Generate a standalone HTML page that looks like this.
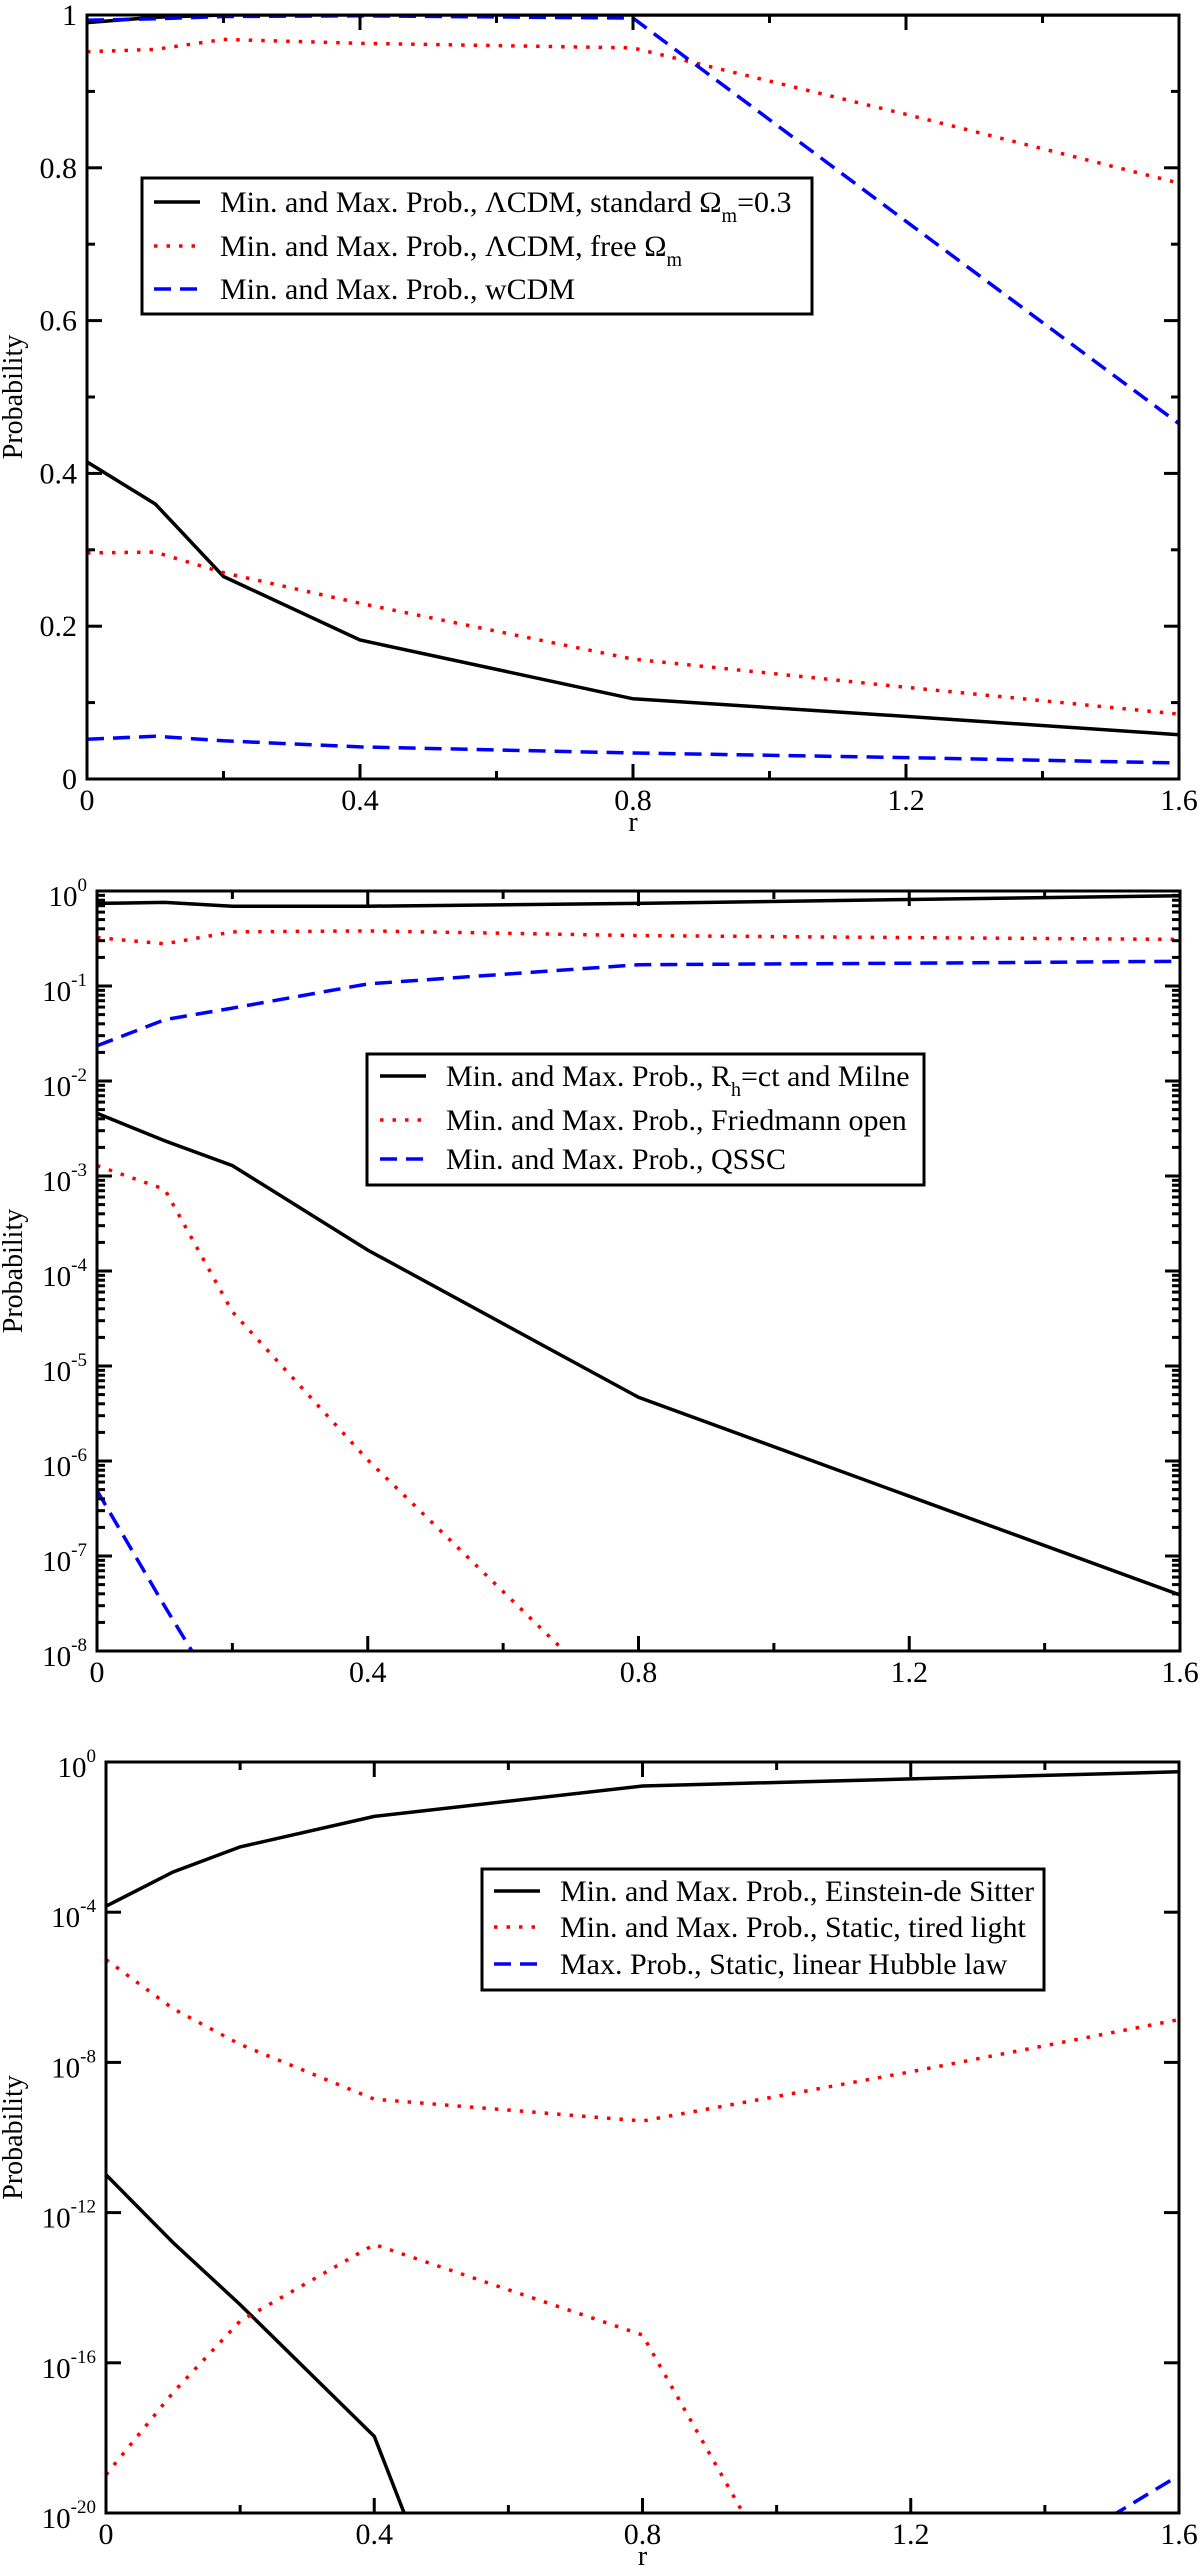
<!DOCTYPE html>
<html><head><meta charset="utf-8"><style>
html,body{margin:0;padding:0;background:#fff;width:1200px;height:2570px;overflow:hidden}
svg{display:block}
text{font-family:"Liberation Serif","Times New Roman",serif;fill:#000}
</style></head><body>
<svg id="fig" width="1200" height="2570" viewBox="0 0 1200 2570" xmlns="http://www.w3.org/2000/svg" font-family="Liberation Serif, Times New Roman, serif"></svg>
<script>
const NS="http://www.w3.org/2000/svg";
const xs=[0,0.1,0.2,0.4,0.8,1.2,1.6];
// Panel 1 (linear)
const p1BlackMax=[0.99,0.997,1,1,1,1,1];
const p1BlackMin=[0.415,0.36,0.265,0.182,0.105,0.082,0.058];
const p1RedMax=[0.952,0.955,0.968,0.963,0.957,0.87,0.78];
const p1RedMin=[0.296,0.297,0.27,0.23,0.157,0.12,0.085];
const p1BlueMax=[0.993,0.995,0.998,0.999,0.996,0.73,0.465];
const p1BlueMin=[0.052,0.056,0.05,0.042,0.034,0.028,0.021];
// Panel 2 (log10 values)
const p2BlackMax=[-0.13,-0.12,-0.16,-0.16,-0.13,-0.09,-0.05];
const p2BlackMin=[-2.34,-2.63,-2.89,-3.78,-5.33,-6.37,-7.41];
const p2RedMax=[-0.49,-0.556,-0.43,-0.42,-0.47,-0.49,-0.51];
const p2RedMin=[-2.89,-3.14,-4.43,-5.99,-8.76,-10,-11];
const p2BlueMax=[-1.63,-1.355,-1.233,-0.978,-0.776,-0.76,-0.74];
const p2BlueMin=[-6.31,-7.53,-8.7,-10,-12,-14,-16];
// Panel 3 (log10 values)
const p3BlackMax=[-3.84,-2.93,-2.26,-1.45,-0.64,-0.45,-0.26];
const p3BlackMin=[-10.99,-12.8,-14.45,-17.96,-36.3,-50,-60];
const p3RedMax=[-5.26,-6.57,-7.52,-8.98,-9.56,-8.25,-6.86];
const p3RedMin=[-18.98,-16.79,-14.89,-12.85,-15.26,-27.9,-40.5];
const p3BlueX=[1.2,1.6];
const p3BlueMax=[-23.3,-19.0];
const xTicks=[0,0.4,0.8,1.2,1.6];
const xTickLabels=["0","0.4","0.8","1.2","1.6"];
const p1YTicks=[0,0.2,0.4,0.6,0.8,1];
const p1YTickLabels=["0","0.2","0.4","0.6","0.8","1"];

const svg=document.getElementById('fig');
const FF="Liberation Serif, Times New Roman, serif";
function el(tag,attrs,parent){const e=document.createElementNS(NS,tag);for(const k in attrs)e.setAttribute(k,attrs[k]);if(tag==='text')e.setAttribute('font-family',FF);(parent||svg).appendChild(e);return e;}

const styles={
 black:{stroke:"#000","stroke-width":3.5,fill:"none"},
 red:{stroke:"#f00","stroke-width":3.5,fill:"none","stroke-dasharray":"3.5 9","stroke-linecap":"butt"},
 blue:{stroke:"#00f","stroke-width":3.5,fill:"none","stroke-dasharray":"17 9"}
};

function panel(cfg){
 const g=el('g',{});
 
 
 const X=v=>cfg.x0+(v-0)/(1.6)*(cfg.x1-cfg.x0);
 const Y=v=>cfg.yb-(v-cfg.ymin)/(cfg.ymax-cfg.ymin)*(cfg.yb-cfg.yt);
 const clipId='clip'+cfg.id;
 const defs=el('defs',{},g);
 const cp=el('clipPath',{id:clipId},defs);
 el('rect',{x:cfg.x0,y:cfg.yt,width:cfg.x1-cfg.x0,height:cfg.yb-cfg.yt},cp);
 const sg=el('g',{'clip-path':'url(#'+clipId+')'},g);
 cfg.series.forEach(s=>{
  const xv=s.x||xs;
  const d=xv.map((x,i)=>(i?'L':'M')+X(x).toFixed(1)+' '+Y(s.v[i]).toFixed(1)).join(' ');
  const p=el('path',Object.assign({d:d},styles[s.style]),sg);
  
  
 });
 const fr=el('rect',{x:cfg.x0,y:cfg.yt,width:cfg.x1-cfg.x0,height:cfg.yb-cfg.yt,fill:'none',stroke:'#000','stroke-width':3},g);
 
 
 const tk=el('g',{stroke:'#000','stroke-width':3},g);
 for(let v=0;v<=1.6001;v+=0.2){
  const major=Math.abs(v/0.4-Math.round(v/0.4))<1e-6;
  const L=major?15:8;
  el('line',{x1:X(v),x2:X(v),y1:cfg.yb,y2:cfg.yb-L},tk);
  el('line',{x1:X(v),x2:X(v),y1:cfg.yt,y2:cfg.yt+L},tk);
 }
 xTicks.forEach((v,i)=>{
  const t=el('text',{x:X(v),y:cfg.yb+31,'text-anchor':'middle','font-size':30},g);
  t.textContent=xTickLabels[i];
  
  
 });
 cfg.yticks(tk,g,X,Y);
 if(cfg.xlabel){
  const t=el('text',{x:(cfg.x0+cfg.x1)/2,y:cfg.yb+52,'text-anchor':'middle','font-size':28},g);
  t.textContent='r';
  
  
 }
 const yl=el('text',{transform:'translate(22,'+((cfg.yt+cfg.yb)/2)+') rotate(-90)','text-anchor':'middle','font-size':28},g);
 yl.textContent='Probability';
 
 
 const lg=el('g',{},g);
 
 
 const L=cfg.legend;
 el('rect',{x:L.x,y:L.y,width:L.w,height:L.h,fill:'#fff',stroke:'#000','stroke-width':3},lg);
 L.items.forEach((it,i)=>{
  const yy=L.rows[i];
  el('line',Object.assign({x1:L.sx,x2:L.sx+46,y1:yy,y2:yy},styles[it.style]),lg);
  const t=el('text',{x:L.tx,y:yy+10,'font-size':30},lg);
  t.innerHTML=it.html;
  
  
 });
}

function makeLogYTicks(cfg,step,minor){
 return function(tk,g,X,Y){
  for(let e=cfg.ymin;e<=cfg.ymax;e+=step){
   el('line',{x1:cfg.x0,x2:cfg.x0+15,y1:Y(e),y2:Y(e)},tk);
   el('line',{x1:cfg.x1,x2:cfg.x1-15,y1:Y(e),y2:Y(e)},tk);
   if(minor&&e<cfg.ymax){
    for(let m=2;m<=9;m++){
     const yy=Y(e+Math.log10(m));
     el('line',{x1:cfg.x0,x2:cfg.x0+8,y1:yy,y2:yy},tk);
     el('line',{x1:cfg.x1,x2:cfg.x1-8,y1:yy,y2:yy},tk);
    }
   }
   const t=el('text',{x:cfg.x0-10,y:Y(e)+15,'text-anchor':'end','font-size':29},g);
   t.innerHTML='10<tspan dy="-15" font-size="19">'+e+'</tspan>';
   
   
  }
 };
}

const c1={id:1,name:'panel-lcdm-wcdm',x0:87,x1:1179,yt:15,yb:779,ymin:0,ymax:1,xlabel:true,
 series:[
  {name:'lcdm-standard-max',style:'black',v:p1BlackMax},
  {name:'lcdm-standard-min',style:'black',v:p1BlackMin},
  {name:'lcdm-free-max',style:'red',v:p1RedMax},
  {name:'lcdm-free-min',style:'red',v:p1RedMin},
  {name:'wcdm-max',style:'blue',v:p1BlueMax},
  {name:'wcdm-min',style:'blue',v:p1BlueMin}],
 legend:{x:142,y:178,w:670,h:136,sx:154,tx:220,rows:[202,246,289],items:[
  {style:'black',html:'Min. and Max. Prob., ΛCDM, standard Ω<tspan dy="10" font-size="20">m</tspan><tspan dy="-10">=0.3</tspan>'},
  {style:'red',html:'Min. and Max. Prob., ΛCDM, free Ω<tspan dy="10" font-size="20">m</tspan>'},
  {style:'blue',html:'Min. and Max. Prob., wCDM'}]}
};
c1.yticks=function(tk,g,X,Y){
 for(let v=0;v<=1.0001;v+=0.1){
  const major=Math.abs(v/0.2-Math.round(v/0.2))<1e-6;
  const L=major?15:8;
  el('line',{x1:c1.x0,x2:c1.x0+L,y1:Y(v),y2:Y(v)},tk);
  el('line',{x1:c1.x1,x2:c1.x1-L,y1:Y(v),y2:Y(v)},tk);
 }
 p1YTicks.forEach((v,i)=>{
  const t=el('text',{x:c1.x0-10,y:Y(v)+10,'text-anchor':'end','font-size':30},g);
  t.textContent=p1YTickLabels[i];
  
  
 });
};

const c2={id:2,name:'panel-rhct-friedmann-qssc',x0:97,x1:1180,yt:891,yb:1651,ymin:-8,ymax:0,xlabel:false,
 series:[
  {name:'rhct-max',style:'black',v:p2BlackMax},
  {name:'rhct-min',style:'black',v:p2BlackMin},
  {name:'friedmann-max',style:'red',v:p2RedMax},
  {name:'friedmann-min',style:'red',v:p2RedMin},
  {name:'qssc-max',style:'blue',v:p2BlueMax},
  {name:'qssc-min',style:'blue',v:p2BlueMin}],
 legend:{x:367,y:1054,w:557,h:131,sx:380,tx:446,rows:[1076,1120,1159],items:[
  {style:'black',html:'Min. and Max. Prob., R<tspan dy="10" font-size="20">h</tspan><tspan dy="-10">=ct and Milne</tspan>'},
  {style:'red',html:'Min. and Max. Prob., Friedmann open'},
  {style:'blue',html:'Min. and Max. Prob., QSSC'}]}
};
c2.yticks=makeLogYTicks(c2,1,true);

const c3={id:3,name:'panel-eds-static',x0:106,x1:1179,yt:1762,yb:2513,ymin:-20,ymax:0,xlabel:true,
 series:[
  {name:'eds-max',style:'black',v:p3BlackMax},
  {name:'eds-min',style:'black',v:p3BlackMin},
  {name:'tired-light-max',style:'red',v:p3RedMax},
  {name:'tired-light-min',style:'red',v:p3RedMin},
  {name:'hubble-max',style:'blue',x:p3BlueX,v:p3BlueMax}],
 legend:{x:482,y:1869,w:562,h:121,sx:494,tx:560,rows:[1891,1927,1964],items:[
  {style:'black',html:'Min. and Max. Prob., Einstein-de Sitter'},
  {style:'red',html:'Min. and Max. Prob., Static, tired light'},
  {style:'blue',html:'Max. Prob., Static, linear Hubble law'}]}
};
c3.yticks=makeLogYTicks(c3,4,false);

[c1,c2,c3].forEach(panel);
</script>
</body></html>
